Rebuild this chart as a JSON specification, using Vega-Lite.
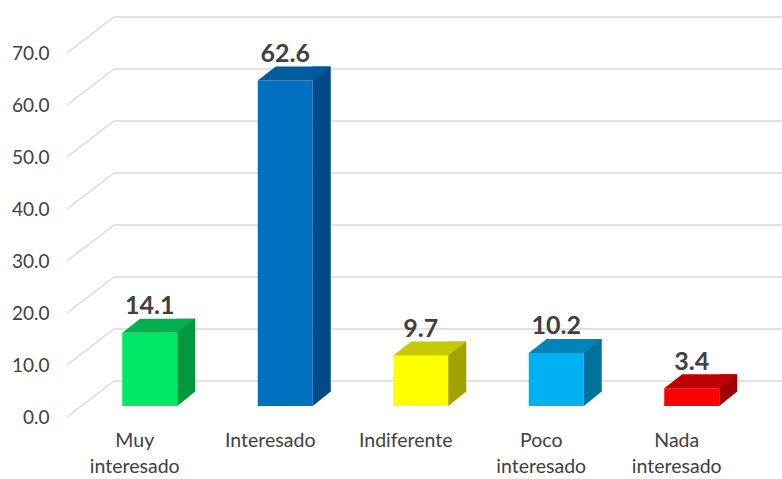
{
  "$schema": "https://vega.github.io/schema/vega-lite/v6.json",
  "autosize": "none",
  "width": 677.5,
  "height": 364,
  "padding": {"left": 67, "top": 53, "right": 37.5, "bottom": 62},
  "background": "white",
  "config": {"view": {"stroke": null}, "font": "Lato"},
  "datasets": {
    "bars": [
      {"cat": "Muy interesado", "value": 14.1},
      {"cat": "Interesado", "value": 62.6},
      {"cat": "Indiferente", "value": 9.7},
      {"cat": "Poco interesado", "value": 10.2},
      {"cat": "Nada interesado", "value": 3.4}
    ],
    "ticks": [
      {"v": 0}, {"v": 10}, {"v": 20}, {"v": 30}, {"v": 40}, {"v": 50}, {"v": 60}, {"v": 70}
    ]
  },
  "resolve": {"scale": {"fill": "independent"}},
  "layer": [
    {
      "data": {"name": "ticks"},
      "mark": {"type": "rule", "color": "#D9D9D9", "strokeWidth": 1.5, "yOffset": -36},
      "encoding": {
        "y": {"field": "v", "type": "quantitative", "scale": {"domain": [0, 70]},
              "axis": {"title": null, "domain": false, "ticks": false, "tickSize": 0, "grid": false,
                       "values": [0, 10, 20, 30, 40, 50, 60, 70], "format": ".1f",
                       "labelFont": "Lato", "labelFontSize": 19, "labelColor": "#404040", "labelPadding": 18}},
        "x": {"value": 47},
        "x2": {"value": 720}
      }
    },
    {
      "data": {"name": "ticks"},
      "mark": {"type": "rule", "color": "#D9D9D9", "strokeWidth": 1.5, "y2Offset": -36},
      "encoding": {
        "y": {"field": "v", "type": "quantitative"},
        "y2": {"field": "v"},
        "x": {"value": 0},
        "x2": {"value": 47}
      }
    },
    {
      "data": {"name": "bars"},
      "mark": {"type": "bar", "width": 55, "xOffset": 15, "yOffset": -11, "y2Offset": -11},
      "encoding": {
        "x": {"field": "cat", "type": "nominal", "sort": null,
              "scale": {"paddingInner": 0, "paddingOuter": 0},
              "axis": {"title": null, "domain": false, "ticks": false, "grid": false, "labelAngle": 0,
                       "labelFont": "Lato", "labelFontSize": 19.5, "labelColor": "#404040",
                       "labelPadding": 14, "labelBaseline": "top", "labelLineHeight": 26,
                       "labelExpr": "split(datum.label, ' ')"}},
        "y": {"field": "value", "type": "quantitative"},
        "y2": {"datum": 0},
        "fill": {"field": "cat", "type": "nominal", "legend": null,
                 "scale": {"domain": ["Muy interesado", "Interesado", "Indiferente", "Poco interesado", "Nada interesado"],
                           "range": ["#00E868", "#0070C0", "#FFFF00", "#00B0F0", "#FF0000"]}}
      }
    },
    {
      "data": {"name": "bars"},
      "mark": {"type": "bar", "width": 18, "xOffset": 51.5, "yOffset": -25, "y2Offset": -25},
      "encoding": {
        "x": {"field": "cat", "type": "nominal", "sort": null},
        "y": {"field": "value", "type": "quantitative"},
        "y2": {"datum": 0},
        "fill": {"field": "cat", "type": "nominal", "legend": null,
                 "scale": {"domain": ["Muy interesado", "Interesado", "Indiferente", "Poco interesado", "Nada interesado"],
                           "range": ["#00983F", "#004B87", "#A3A300", "#00729C", "#9C0000"]}}
      }
    },
    {
      "data": {"name": "bars"},
      "mark": {"type": "point", "filled": true, "opacity": 1, "strokeWidth": 0, "size": 4,
               "shape": "M 27.5 0 L 27.5 -14.5 L 45.5 -14.5 Z", "xOffset": 15, "yOffset": -11},
      "encoding": {
        "x": {"field": "cat", "type": "nominal", "sort": null},
        "y": {"datum": 0},
        "fill": {"field": "cat", "type": "nominal", "legend": null,
                 "scale": {"domain": ["Muy interesado", "Interesado", "Indiferente", "Poco interesado", "Nada interesado"],
                           "range": ["#00983F", "#004B87", "#A3A300", "#00729C", "#9C0000"]}}
      }
    },
    {
      "data": {"name": "bars"},
      "mark": {"type": "point", "filled": true, "opacity": 1, "strokeWidth": 0, "size": 4,
               "shape": "M -27.5 0 L 27.5 0 L 45.5 -14 L -9.5 -14 Z", "xOffset": 15, "yOffset": -11},
      "encoding": {
        "x": {"field": "cat", "type": "nominal", "sort": null},
        "y": {"field": "value", "type": "quantitative"},
        "fill": {"field": "cat", "type": "nominal", "legend": null,
                 "scale": {"domain": ["Muy interesado", "Interesado", "Indiferente", "Poco interesado", "Nada interesado"],
                           "range": ["#00B04F", "#005A9E", "#C9C900", "#0085BB", "#C00000"]}}
      }
    },
    {
      "data": {"name": "bars"},
      "mark": {"type": "text", "font": "Lato", "fontWeight": "bold", "fontSize": 25, "color": "#404040",
               "baseline": "middle", "align": "center", "xOffset": 15, "yOffset": -37.5},
      "encoding": {
        "x": {"field": "cat", "type": "nominal", "sort": null},
        "y": {"field": "value", "type": "quantitative"},
        "text": {"field": "value", "type": "quantitative", "format": ".1f"}
      }
    }
  ]
}
